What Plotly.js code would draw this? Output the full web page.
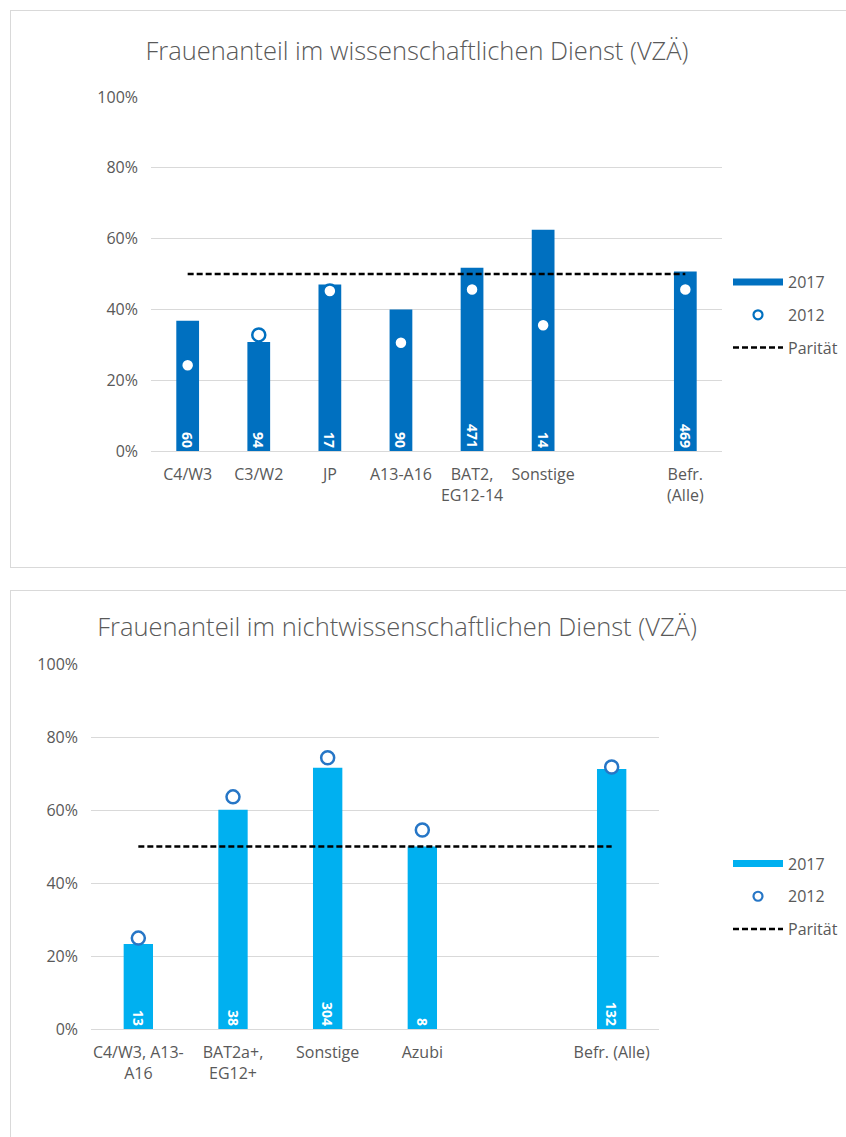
<!DOCTYPE html>
<html><head><meta charset="utf-8">
<script src="https://cdn.plot.ly/plotly-3.0.1.min.js"></script>
<style>
body{margin:0;background:#fff;}
#c1{position:absolute;left:10px;top:10px;width:835px;height:556px;border:1px solid #d9d9d9;}
#c2{position:absolute;left:10px;top:590px;width:835px;height:546px;border:1px solid #d9d9d9;}
</style></head><body>
<div id="c1"></div><div id="c2"></div>
<script>
// Chart 1: wissenschaftlicher Dienst
const catsW = ['C4/W3','C3/W2','JP','A13-A16','BAT2,<br>EG12-14','Sonstige',' ','Befr.<br>(Alle)'];
const w2017 = [0.368,0.308,0.470,0.400,0.518,0.625,null,0.507];
const w2012 = [0.242,0.328,0.452,0.306,0.456,0.355,null,0.456];
const wCount = ['60','94','17','90','471','14','','469'];
const wParity = [0.5,0.5,0.5,0.5,0.5,0.5,0.5,0.5];

// Chart 2: nichtwissenschaftlicher Dienst
const catsN = ['C4/W3, A13-<br>A16','BAT2a+,<br>EG12+','Sonstige','Azubi',' ','Befr. (Alle)'];
const n2017 = [0.233,0.601,0.716,0.500,null,0.712];
const n2012 = [0.249,0.636,0.743,0.545,null,0.718];
const nCount = ['13','38','304','8','','132'];
const nParity = [0.5,0.5,0.5,0.5,0.5,0.5];

const yTicks = [0,0.2,0.4,0.6,0.8,1.0];
const yTickText = ['0%','20%','40%','60%','80%','100%'];

const FONT = 'Open Sans, sans-serif';
const GRAY = '#595959';

function build(el, cats, v17, v12, counts, parity, opts){
  const traces = [
    {type:'bar', x:cats, y:v17, name:'2017', showlegend:false,
     marker:{color:opts.bar}, width:opts.bw,
     text:counts, textposition:'inside', insidetextanchor:'start', textangle:90,
     constraintext:'none', cliponaxis:false,
     textfont:{family:FONT, size:14, color:'#ffffff', weight:700}, hoverinfo:'skip'},
    {type:'scatter', mode:'markers', x:cats, y:v12, name:'2012', showlegend:false,
     marker:{symbol:'circle', size:13, color:'#ffffff', line:{color:opts.ring, width:2.5}}},
    {type:'scatter', mode:'lines', x:[null], y:[null], name:'2017',
     line:{color:opts.bar, width:7}, legendgroup:'a'},
    {type:'scatter', mode:'markers', x:[null], y:[null], name:'2012', legendgroup:'b',
     marker:{symbol:'circle', size:9, color:'#ffffff', line:{color:opts.ring, width:2.2}}},
    {type:'scatter', mode:'lines', x:cats, y:parity, name:'Parität', legendgroup:'c',
     line:{color:'#000000', width:2.5, dash:'6px,3px'}}
  ];
  const layout = {
    width:835, height:opts.h, paper_bgcolor:'#fff', plot_bgcolor:'#fff',
    margin:opts.m,
    font:{family:FONT, color:GRAY, size:15},
    title:{text:opts.title, x:opts.tx, xanchor:'center', xref:'container', y:opts.ty, yref:'container', yanchor:'middle',
           font:{family:FONT, size:25.5, color:GRAY, weight:300}},
    barmode:'overlay',
    showlegend:true,
    legend:{x:opts.lx, y:opts.ly, xref:'container', yref:'container', xanchor:'left', yanchor:'top',
            itemwidth:50, tracegroupgap:9,
            traceorder:'grouped', font:{family:FONT, size:16, color:GRAY}, bgcolor:'rgba(0,0,0,0)'},
    xaxis:{type:'category', categoryarray:cats, categoryorder:'array', showgrid:false, zeroline:false,
           showline:false, ticks:'', tickfont:{family:FONT, size:16, color:GRAY}, ticklabelstandoff:12,
           fixedrange:true},
    yaxis:{range:[0,1.0], tickvals:yTicks, ticktext:yTickText, showgrid:true, gridcolor:'#d9d9d9', gridwidth:1,
           zeroline:true, zerolinecolor:'#d9d9d9', zerolinewidth:1, showline:false, ticks:'',
           tickfont:{family:FONT, size:16, color:GRAY}, ticklabelstandoff:12, fixedrange:true}
  };
  Plotly.newPlot(el, traces, layout, {staticPlot:true, displayModeBar:false});
}

build('c1', catsW, w2017, w2012, wCount, wParity, {
  bar:'#0070C0', ring:'#0070C0', bw:0.32, h:556,
  m:{l:140, r:124, t:86, b:116},
  title:'Frauenanteil im wissenschaftlichen Dienst (VZÄ)', tx:406/835, ty:1-40/556,
  lx:(728-11)/835, ly:0.543
});
build('c2', catsN, n2017, n2012, nCount, nParity, {
  bar:'#00B0F0', ring:'#2676C6', bw:0.31, h:546,
  m:{l:80, r:187, t:73, b:108},
  title:'Frauenanteil im nichtwissenschaftlichen Dienst (VZÄ)', tx:386/835, ty:1-36/546,
  lx:(728-11)/835, ly:0.532
});
</script>
</body></html>
